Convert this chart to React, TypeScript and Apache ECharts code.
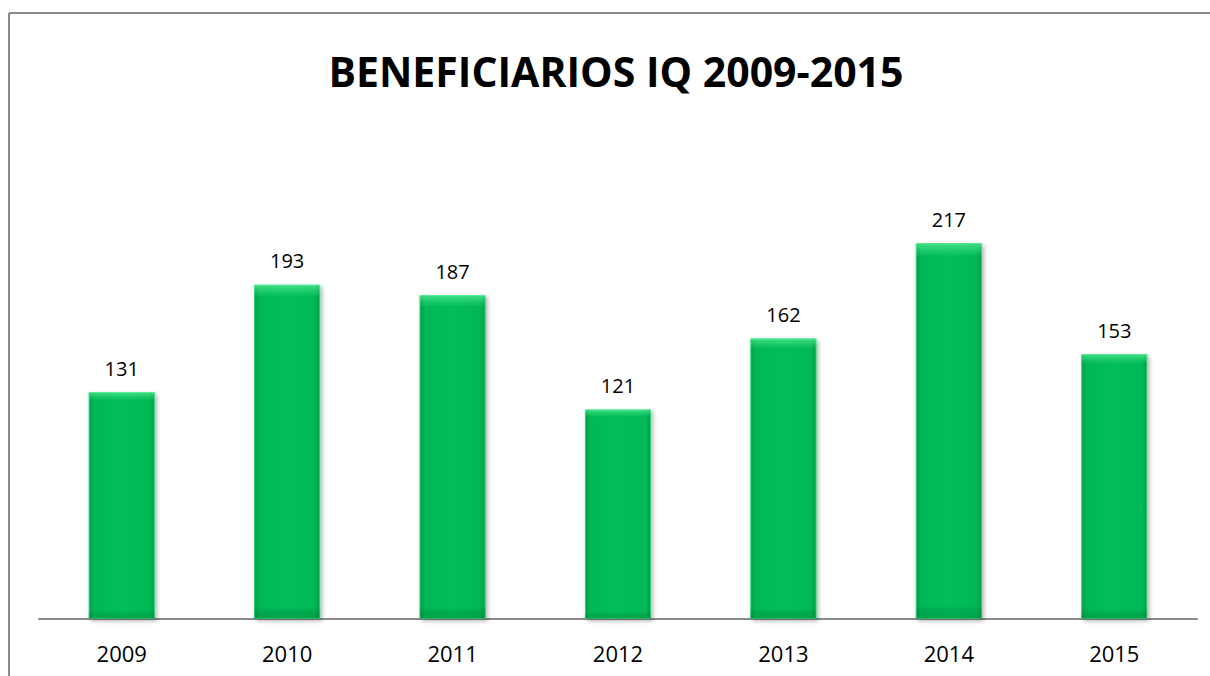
import React, { useEffect, useRef } from "react";
import * as echarts from "echarts";

const titleText = "BENEFICIARIOS IQ 2009-2015";
const years = ["2009", "2010", "2011", "2012", "2013", "2014", "2015"];
const beneficiarios = [131, 193, 187, 121, 162, 217, 153];

export default function App() {
  const ref = useRef<HTMLDivElement>(null);
  useEffect(() => {
    if (!ref.current) return;
    const chart = echarts.init(ref.current, null, { renderer: "svg" });
    chart.setOption({
      animation: false,
      backgroundColor: "#ffffff",
      title: {
        text: titleText,
        left: 611,
        textAlign: "center",
        top: 45,
        textStyle: {
          fontFamily: "Open Sans",
          fontWeight: "bold",
          fontSize: 41,
          color: "#000000",
        },
      },
      graphic: [
        {
          type: "line",
          shape: { x1: 9, y1: 13, x2: 1230, y2: 13 },
          style: { stroke: "#8a8a8a", lineWidth: 2 },
          silent: true,
        },
        {
          type: "line",
          shape: { x1: 9, y1: 13, x2: 9, y2: 690 },
          style: { stroke: "#8a8a8a", lineWidth: 2 },
          silent: true,
        },
      ],
      grid: { left: 39, right: 13, top: 186, bottom: 57, containLabel: false },
      xAxis: {
        type: "category",
        data: years,
        axisLine: { lineStyle: { color: "#8a8a8a", width: 2 } },
        axisTick: { show: false },
        axisLabel: {
          fontFamily: "Open Sans",
          fontSize: 22,
          color: "#000000",
          margin: 23,
        },
      },
      yAxis: {
        type: "value",
        min: 0,
        max: 250,
        show: false,
        splitLine: { show: false },
      },
      series: [
        {
          type: "bar",
          data: beneficiarios,
          barWidth: "40%",
          itemStyle: {
            color: new echarts.graphic.LinearGradient(0, 0, 1, 0, [
              { offset: 0, color: "#06a046" },
              { offset: 0.08, color: "#00b856" },
              { offset: 0.5, color: "#06be5a" },
              { offset: 0.92, color: "#00b856" },
              { offset: 1, color: "#06a046" },
            ]),
            borderColor: "#2ad276",
            borderWidth: 1,
            shadowColor: "rgba(0,0,0,0.3)",
            shadowBlur: 4,
            shadowOffsetX: 2,
            shadowOffsetY: 2,
          },
          label: {
            show: true,
            position: "top",
            distance: 14,
            fontFamily: "Open Sans",
            fontSize: 20,
            color: "#000000",
          },
        },
        {
          type: "bar",
          data: beneficiarios,
          barWidth: "40%",
          barGap: "-100%",
          silent: true,
          itemStyle: {
            color: new echarts.graphic.LinearGradient(0, 0, 0, 1, [
              { offset: 0, color: "rgba(120,255,170,0.55)" },
              { offset: 0.025, color: "rgba(120,255,170,0.15)" },
              { offset: 0.035, color: "rgba(255,255,255,0)" },
              { offset: 0.965, color: "rgba(0,0,0,0)" },
              { offset: 0.975, color: "rgba(0,0,0,0.08)" },
              { offset: 1, color: "rgba(0,0,0,0.12)" },
            ]),
          },
        },
      ],
    });
    return () => chart.dispose();
  }, []);
  return (
    <div
      ref={ref}
      style={{ position: "absolute", left: 0, top: 0, width: 1210, height: 676 }}
    />
  );
}
